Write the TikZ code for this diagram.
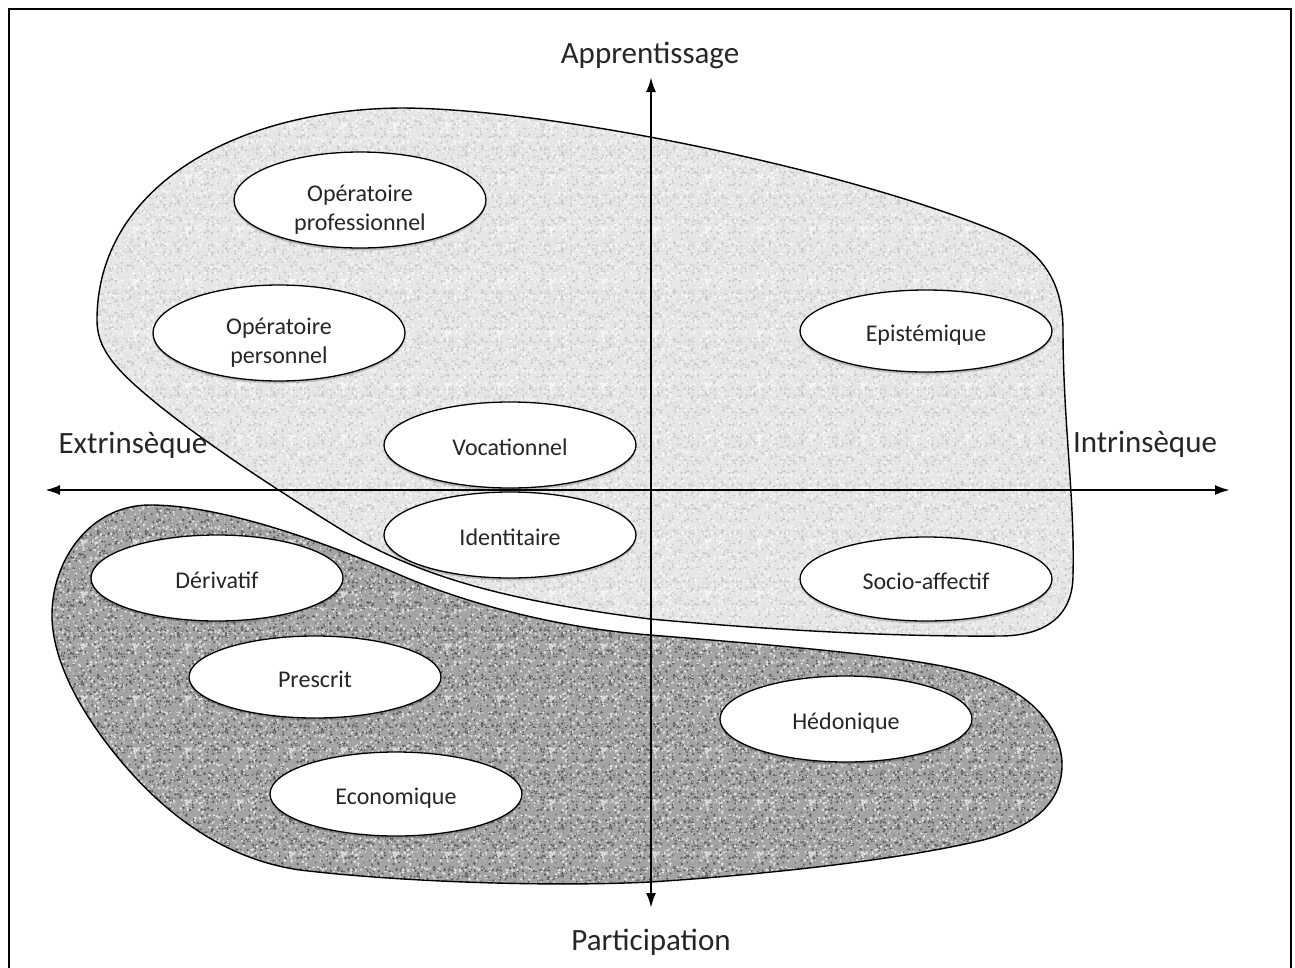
\documentclass[tikz,border=0pt]{standalone}
\usepackage{fontspec}
\setmainfont{Carlito}
\usetikzlibrary{shapes.geometric,arrows.meta,shadows,patterns}
\definecolor{lightfill}{HTML}{E6E6E4}
\definecolor{lightdot}{HTML}{C8C8C6}
\definecolor{lightdotw}{HTML}{F8F8F8}
\definecolor{darkfill}{HTML}{A4A4A4}
\definecolor{darkdot}{HTML}{5C5C5C}
\definecolor{darkdotw}{HTML}{E0E0E0}
\pgfmathsetseed{4242}
\pgfdeclarepatternformonly{speckA}{\pgfqpoint{0pt}{0pt}}{\pgfqpoint{48pt}{48pt}}{\pgfqpoint{48pt}{48pt}}{%
  \foreach \i in {1,...,120}{%
    \pgfmathsetmacro\px{48*rnd}\pgfmathsetmacro\py{48*rnd}\pgfmathsetmacro\pr{0.55+0.9*rnd}%
    \pgfpathcircle{\pgfqpoint{\px pt}{\py pt}}{\pr pt}\pgfusepath{fill}%
  }%
}
\pgfdeclarepatternformonly{speckB}{\pgfqpoint{0pt}{0pt}}{\pgfqpoint{52pt}{52pt}}{\pgfqpoint{52pt}{52pt}}{%
  \foreach \i in {1,...,140}{%
    \pgfmathsetmacro\px{52*rnd}\pgfmathsetmacro\py{52*rnd}\pgfmathsetmacro\pr{0.55+0.95*rnd}%
    \pgfpathcircle{\pgfqpoint{\px pt}{\py pt}}{\pr pt}\pgfusepath{fill}%
  }%
}
\begin{document}
\begin{tikzpicture}[x=1pt,y=-1pt,
  oval/.style={ellipse, draw=black, line width=1.3pt, fill=white, inner sep=0pt,
    minimum width=252pt, minimum height=82pt, font=\fontsize{24}{29}\selectfont,
    text=black!85, align=center,
    drop shadow={shadow xshift=0pt, shadow yshift=-2.5pt, opacity=0.18, fill=black}},
  one/.style={text height=23pt, text depth=2pt},
  axislabel/.style={font=\fontsize{31}{36}\selectfont, text=black!85, anchor=base, inner sep=0pt},
  axis/.style={line width=2.4pt, {Latex[length=15pt,width=10pt]}-{Latex[length=15pt,width=10pt]}},
  darkblob/.style={preaction={fill=darkfill},
    preaction={pattern=speckA, pattern color=darkdot},
    preaction={pattern=speckB, pattern color=darkdotw},
    draw=black, line width=1.4pt},
  lightblob/.style={preaction={fill=lightfill},
    preaction={pattern=speckA, pattern color=lightdot},
    preaction={pattern=speckB, pattern color=lightdotw},
    draw=black, line width=1.4pt}]
\useasboundingbox (0,0) rectangle (1295,967);
\fill[white] (0,0) rectangle (1295,967);
\draw[line width=2pt] (9,968) -- (9,9) -- (1291,9) -- (1291,968);

% dark blob (participation side)
\path[darkblob] (52,615)
  .. controls (52,560) and (90,505) .. (150,505)
  .. controls (220,505) and (320,540) .. (400,575)
  .. controls (470,605) and (560,628) .. (650,635)
  .. controls (760,644) and (900,655) .. (960,670)
  .. controls (1025,685) and (1062,725) .. (1062,765)
  .. controls (1062,805) and (1030,828) .. (983,840)
  .. controls (900,860) and (760,875) .. (650,882)
  .. controls (550,887) and (400,882) .. (300,870)
  .. controls (230,860) and (170,820) .. (120,760)
  .. controls (80,712) and (52,660) .. (52,615) -- cycle;

% light blob (apprentissage side)
\path[lightblob] (97,320)
  .. controls (97,190) and (230,110) .. (400,108)
  .. controls (550,108) and (850,170) .. (1000,233)
  .. controls (1040,250) and (1063,280) .. (1063,330)
  .. controls (1063,420) and (1075,500) .. (1073,575)
  .. controls (1073,620) and (1040,636) .. (1000,636)
  .. controls (880,637) and (750,628) .. (650,619)
  .. controls (500,600) and (420,575) .. (350,535)
  .. controls (280,492) and (200,440) .. (150,398)
  .. controls (110,365) and (97,345) .. (97,320) -- cycle;

% ellipses
\node[oval] (opro) at (360,200) {\rule{0pt}{35pt}Opératoire\\professionnel};
\node[oval] (opers) at (279,333) {\rule{0pt}{35pt}Opératoire\\personnel};
\node[oval, one, minimum height=86pt] (voc) at (510,445) {Vocationnel};
\node[oval, one, minimum height=86pt] (ident) at (510,535) {Identitaire};
\node[oval, one] (epis) at (926,331) {Epistémique};
\node[oval, one, minimum height=84pt] (socio) at (926,579) {Socio-affectif};
\node[oval, one, minimum height=86pt] (deriv) at (217,578) {Dérivatif};
\node[oval, one] (presc) at (315,677) {Prescrit};
\node[oval, one, minimum height=84pt] (econ) at (396,794) {Economique};
\node[oval, one, minimum height=86pt] (hedo) at (846,719) {Hédonique};

% axes
\coordinate (xl) at (45,490);
\coordinate (xr) at (1230,490);
\coordinate (yt) at (651,77);
\coordinate (yb) at (651,908);
\draw[axis] (xl) -- (xr);
\draw[axis] (yt) -- (yb);

% axis labels
\node[axislabel] (app) at (650,63) {Apprentissage};
\node[axislabel] (part) at (651,950) {Participation};
\node[axislabel] (ext) at (133,453) {Extrinsèque};
\node[axislabel] (intr) at (1145,452) {Intrinsèque};
\end{tikzpicture}
\end{document}
